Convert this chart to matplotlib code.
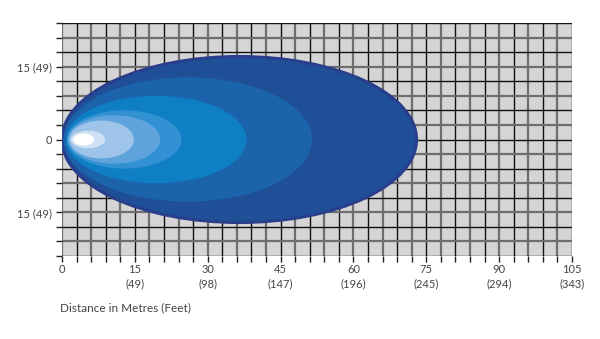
import numpy as np
import matplotlib
matplotlib.use("Agg")
import matplotlib.pyplot as plt
from matplotlib.patches import Ellipse

plt.rcParams["font.family"] = ["Lato", "DejaVu Sans"]

# beam layers, outermost first (metres)
layer_start = [0.0, 0.3, 0.8, 1.0, 1.2, 1.5, 1.8, 2.3]
layer_end = [73.0, 51.5, 38.0, 24.6, 20.2, 14.8, 8.9, 6.6]
layer_half = [17.1, 12.8, 9.0, 6.0, 5.0, 3.9, 1.8, 1.25]
layer_colors = ["#1f4f97", "#1b63aa", "#0f7fc4", "#3191d2", "#5ea3dc",
                "#9fc4ea", "#cfe1f5", "#ffffff"]

x_major = [0, 15, 30, 45, 60, 75, 90, 105]
x_labels = ["0", "15\n(49)", "30\n(98)", "45\n(147)", "60\n(196)",
            "75\n(245)", "90\n(294)", "105\n(343)"]
y_major = [-15, 0, 15]
y_labels = ["15 (49)", "0", "15 (49)"]

fig = plt.figure(figsize=(6, 3.39), dpi=100)
ax = fig.add_axes([62 / 600, 83 / 339, 510 / 600, 233 / 339])
ax.set_xlim(0, 105)
ax.set_ylim(-24, 24)
ax.set_facecolor("#d5d5d5")

# grid: alternating grey / black lines every 3 m
for i, x in enumerate(np.arange(0, 106, 3)):
    gray = i % 2 == 0
    ax.axvline(x, color="#6e6e6e" if gray else "#111111",
               lw=1.6 if gray else 1.0, zorder=1)
for i, y in enumerate(np.arange(-24, 25, 3)):
    gray = i % 2 == 1
    ax.axhline(y, color="#6e6e6e" if gray else "#111111",
               lw=1.6 if gray else 1.0, zorder=1)

for k, (s, e, h, c) in enumerate(zip(layer_start, layer_end, layer_half, layer_colors)):
    w = e - s
    if k == 0:
        ell = Ellipse(((s + e) / 2, 0), w, 2 * h, facecolor=c,
                      edgecolor="#293f8c", lw=2.2, zorder=3 + k)
    else:
        ell = Ellipse(((s + e) / 2, 0), w, 2 * h, facecolor=c,
                      edgecolor="none", zorder=3 + k)
    ax.add_patch(ell)

for sp in ax.spines.values():
    sp.set_visible(False)

xt = np.arange(0, 106, 3)
ax.set_xticks(xt)
ax.set_xticklabels([x_labels[x_major.index(v)] if v in x_major else "" for v in xt])
yt = np.arange(-24, 25, 3)
ax.set_yticks(yt)
ax.set_yticklabels([y_labels[y_major.index(v)] if v in y_major else "" for v in yt])
ax.tick_params(axis="both", length=4, width=1.0, colors="#222222",
               labelcolor="#444444", labelsize=8, pad=2)
ax.tick_params(axis="y", pad=3)
for i, t in enumerate(ax.xaxis.get_major_ticks()):
    t.tick1line.set_color("#6e6e6e" if i % 2 == 0 else "#111111")
for i, t in enumerate(ax.yaxis.get_major_ticks()):
    t.tick1line.set_color("#6e6e6e" if i % 2 == 1 else "#111111")
for lab in ax.get_xticklabels():
    lab.set_linespacing(1.35)

fig.text(60 / 600, 1 - 308 / 339, "Distance in Metres (Feet)", fontsize=8.5,
         color="#444444", va="center", ha="left")

fig.savefig("out.png", dpi=100)
